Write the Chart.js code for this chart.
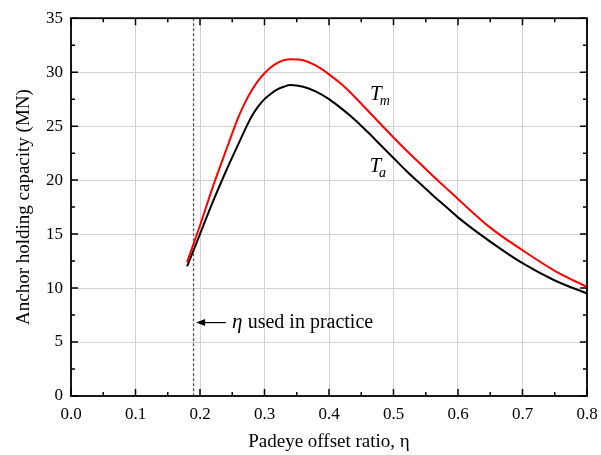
<!DOCTYPE html>
<html>
<head>
<meta charset="utf-8">
<script src="https://cdn.jsdelivr.net/npm/chart.js@4.4.1/dist/chart.umd.min.js"></script>
<style>
  html, body { margin: 0; padding: 0; background: #fff; }
  #wrap { width: 601px; height: 455px; }
</style>
</head>
<body>
<div id="wrap"><canvas id="chart"></canvas></div>
<script>
// padeye offset ratio
const eta = [0.18, 0.19, 0.20, 0.22, 0.24, 0.26, 0.27, 0.28, 0.29, 0.30, 0.31, 0.32, 0.33, 0.34,
    0.36, 0.38, 0.40, 0.42, 0.44, 0.46, 0.48, 0.50, 0.52, 0.54, 0.56, 0.58, 0.60, 0.65, 0.70,
    0.75, 0.80];
// anchor holding capacity (MN)
const tA = [12.0, 13.5, 15.0, 18.0, 20.8, 23.4, 24.7, 25.9, 26.8, 27.5, 28.0, 28.4, 28.65, 28.8,
    28.65, 28.2, 27.5, 26.6, 25.6, 24.45, 23.25, 22.05, 20.85, 19.75, 18.65, 17.6, 16.55, 14.3, 12.3,
    10.7, 9.5];
const tM = [12.4, 14.1, 15.8, 19.4, 22.7, 25.9, 27.2, 28.3, 29.2, 29.9, 30.45, 30.85, 31.1, 31.2,
    31.1, 30.6, 29.8, 28.85, 27.7, 26.45, 25.2, 23.95, 22.75, 21.6, 20.45, 19.35, 18.25, 15.6, 13.5,
    11.6, 10.1];

const etaPractice = 0.19;
const xTicks = [0, 0.1, 0.2, 0.3, 0.4, 0.5, 0.6, 0.7, 0.8];
const yTicks = [0, 5, 10, 15, 20, 25, 30, 35];

const serif = '"Liberation Serif", "Times New Roman", serif';

function toPoints(xs, ys) {
    return xs.map((x, i) => ({ x: x, y: ys[i] }));
}

// frame, inward ticks, practice line and text labels
const decor = {
    id: 'decor',
    beforeDatasetsDraw(chart) {
        const { ctx, chartArea: a, scales: { x } } = chart;
        const px = x.getPixelForValue(etaPractice);
        ctx.save();
        ctx.strokeStyle = '#555';
        ctx.lineWidth = 1.3;
        ctx.setLineDash([3, 2]);
        ctx.beginPath();
        ctx.moveTo(px, a.top);
        ctx.lineTo(px, a.bottom);
        ctx.stroke();
        ctx.restore();
    },
    afterDraw(chart) {
        const { ctx, chartArea: a, scales: { x, y } } = chart;
        ctx.save();
        ctx.strokeStyle = '#000';
        ctx.lineWidth = 1.8;
        ctx.strokeRect(a.left, a.top, a.right - a.left, a.bottom - a.top);

        ctx.lineWidth = 1.5;
        ctx.beginPath();
        for (let v = 0; v <= 0.8001; v += 0.05) {
            const p = x.getPixelForValue(v);
            const len = Math.abs(v * 10 - Math.round(v * 10)) < 1e-6 ? 7 : 4;
            ctx.moveTo(p, a.bottom); ctx.lineTo(p, a.bottom - len);
            ctx.moveTo(p, a.top); ctx.lineTo(p, a.top + len);
        }
        for (let v = 0; v <= 35.001; v += 2.5) {
            const p = y.getPixelForValue(v);
            const len = v % 5 === 0 ? 7 : 4;
            ctx.moveTo(a.left, p); ctx.lineTo(a.left + len, p);
            ctx.moveTo(a.right, p); ctx.lineTo(a.right - len, p);
        }
        ctx.stroke();

        // arrow to the practice value
        const ay = y.getPixelForValue(6.8);
        const tip = x.getPixelForValue(0.194);
        const tail = x.getPixelForValue(0.240);
        ctx.lineWidth = 1.2;
        ctx.beginPath();
        ctx.moveTo(tip + 6, ay); ctx.lineTo(tail, ay);
        ctx.stroke();
        ctx.fillStyle = '#000';
        ctx.beginPath();
        ctx.moveTo(tip, ay);
        ctx.lineTo(tip + 9, ay - 3.5);
        ctx.lineTo(tip + 9, ay + 3.5);
        ctx.closePath();
        ctx.fill();

        ctx.textBaseline = 'middle';
        ctx.textAlign = 'left';
        let tx = x.getPixelForValue(0.2496);
        ctx.font = 'italic 21px ' + serif;
        ctx.fillText('η', tx, ay);
        tx += ctx.measureText('η ').width;
        ctx.font = '20px ' + serif;
        ctx.fillText('used in practice', tx, ay);

        // curve labels
        ctx.textBaseline = 'alphabetic';
        const labels = [['T', 'm', 0.4636, 27.4], ['T', 'a', 0.4626, 20.75]];
        labels.forEach(([main, sub, lx, ly]) => {
            const px = x.getPixelForValue(lx);
            const py = y.getPixelForValue(ly);
            ctx.font = 'italic 21px ' + serif;
            ctx.fillText(main, px, py);
            const w = ctx.measureText(main).width;
            ctx.font = 'italic 14px ' + serif;
            ctx.fillText(sub, px + w - 2, py + 5);
        });
        ctx.restore();
    }
};

new Chart(document.getElementById('chart'), {
    type: 'line',
    data: {
        datasets: [
            {
                label: 'Tm',
                data: toPoints(eta, tM),
                borderColor: '#ff0000',
                borderWidth: 2,
                pointRadius: 0,
                cubicInterpolationMode: 'monotone',
                fill: false
            },
            {
                label: 'Ta',
                data: toPoints(eta, tA),
                borderColor: '#000000',
                borderWidth: 2,
                pointRadius: 0,
                cubicInterpolationMode: 'monotone',
                fill: false
            }
        ]
    },
    plugins: [decor],
    options: {
        responsive: true,
        maintainAspectRatio: false,
        animation: false,
        layout: { padding: { top: 18, right: 14, left: 0, bottom: 0 } },
        plugins: {
            legend: { display: false },
            tooltip: { enabled: false }
        },
        scales: {
            x: {
                type: 'linear',
                min: 0,
                max: 0.8,
                afterBuildTicks: (s) => { s.ticks = xTicks.map(v => ({ value: v })); },
                afterFit: (s) => { s.height = 59; s.paddingRight = 0; s.paddingLeft = 0; },
                grid: { color: '#d0d0d0', lineWidth: 1, borderDash: [2, 2], drawTicks: false },
                border: { display: false },
                ticks: {
                    padding: 8,
                    color: '#000',
                    font: { family: serif, size: 17 },
                    callback: (v) => v.toFixed(1)
                },
                title: {
                    display: true,
                    text: 'Padeye offset ratio, η',
                    color: '#000',
                    font: { family: serif, size: 19 },
                    padding: { top: 0, bottom: 2 }
                }
            },
            y: {
                min: 0,
                max: 35,
                afterBuildTicks: (s) => { s.ticks = yTicks.map(v => ({ value: v })); },
                afterFit: (s) => { s.width = 71; },
                grid: { color: '#d0d0d0', lineWidth: 1, borderDash: [2, 2], drawTicks: false },
                border: { display: false },
                ticks: {
                    padding: 8,
                    color: '#000',
                    font: { family: serif, size: 17 }
                },
                title: {
                    display: true,
                    text: 'Anchor holding capacity (MN)',
                    color: '#000',
                    font: { family: serif, size: 19 },
                    padding: { top: 13, bottom: 0 }
                }
            }
        }
    }
});
</script>
</body>
</html>
